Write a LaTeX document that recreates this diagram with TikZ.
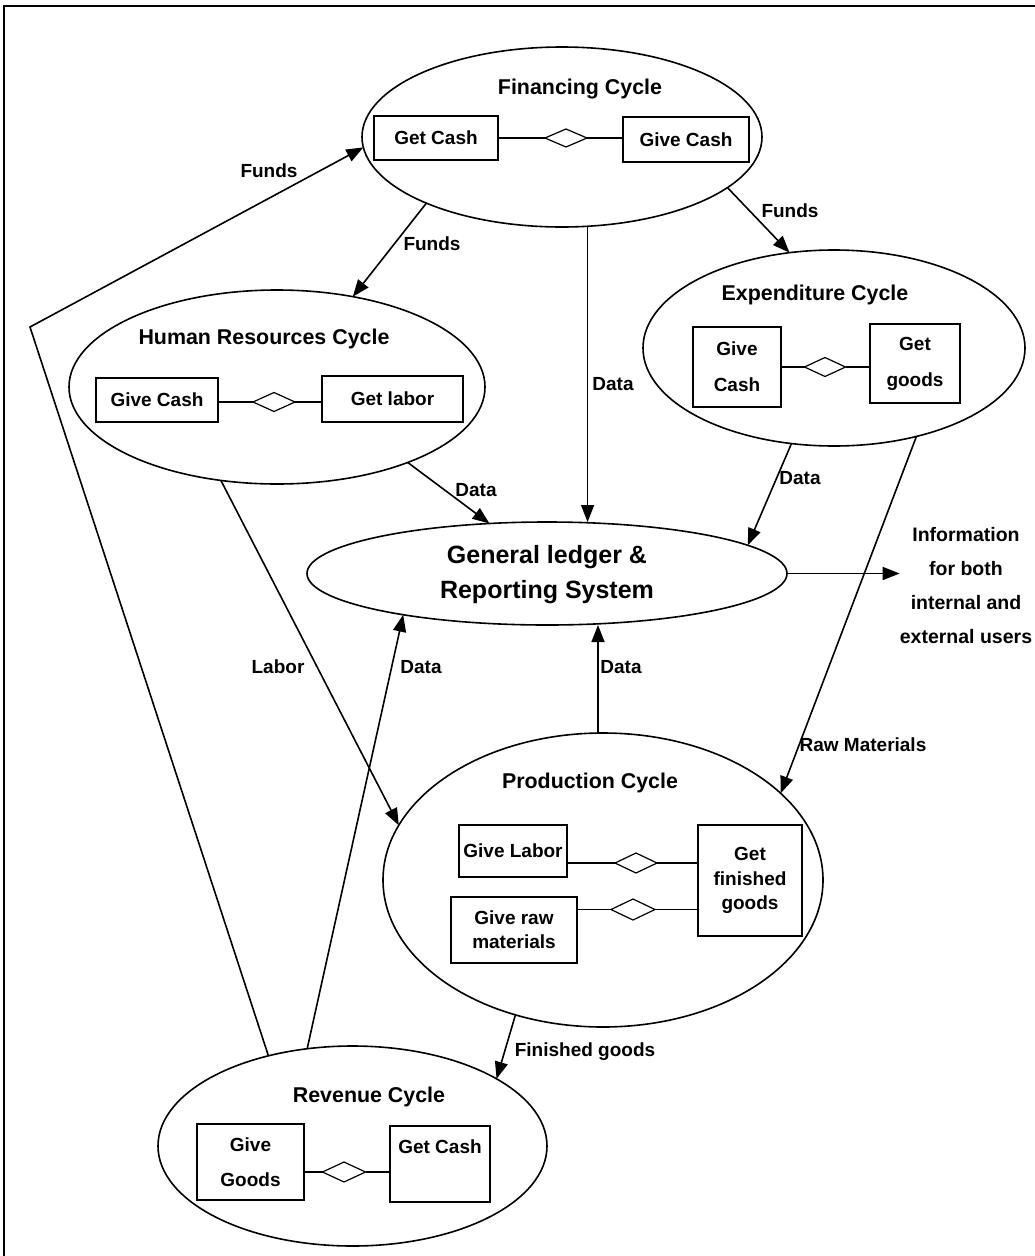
\documentclass[tikz,border=0pt]{standalone}
\usepackage{fontspec}
\setmainfont{Liberation Sans}
\usetikzlibrary{shapes.geometric,arrows.meta}
\begin{document}
\begin{tikzpicture}[x=1pt,y=-1pt,
  cyc/.style={draw, ellipse, line width=1.6pt, inner sep=0pt, outer sep=0pt},
  box/.style={draw, rectangle, line width=1.6pt, inner sep=0pt, outer sep=0pt, align=center,
    font=\fontsize{19}{24}\selectfont\bfseries},
  rel/.style={draw, diamond, line width=1.2pt, inner sep=0pt, outer sep=0pt},
  link/.style={line width=1.6pt},
  arr/.style={line width=1.6pt, -{Triangle[length=17pt,width=13pt]}},
  lbl/.style={font=\fontsize{19}{24}\selectfont\bfseries, inner sep=0pt},
  ttl/.style={font=\fontsize{21.4}{26}\selectfont\bfseries, inner sep=0pt},
]
\useasboundingbox (0,0) rectangle (1035,1256);
% page frame (open at right and bottom)
\draw[line width=2pt] (4,1256) -- (4,6) -- (1035,6);

% ---- cycles ----
\node[cyc, minimum width=400pt, minimum height=180pt] (fin)  at (562,137)    {};
\node[cyc, minimum width=416pt, minimum height=194pt] (hr)   at (277,387)    {};
\node[cyc, minimum width=382pt, minimum height=196pt] (exp)  at (834,348)    {};
\node[cyc, minimum width=480pt, minimum height=103pt] (gl)   at (547,573.5)  {};
\node[cyc, minimum width=440pt, minimum height=294pt] (prod) at (603,880)    {};
\node[cyc, minimum width=389pt, minimum height=200pt] (rev)  at (352.5,1146) {};

\node[ttl] (finT)  at (580,89)   {Financing Cycle};
\node[ttl] (hrT)   at (264,339)  {Human Resources Cycle};
\node[ttl] (expT)  at (815,295)  {Expenditure Cycle};
\node[ttl] (prodT) at (590,783)  {Production Cycle};
\node[ttl] (revT)  at (369,1097) {Revenue Cycle};
\node[font=\fontsize{25}{35}\selectfont\bfseries, align=center, inner sep=0pt] (glT)
  at (547,575) {General ledger \&\\Reporting System};

% ---- financing ----
\node[box, minimum width=124pt, minimum height=44pt] (finGet)  at (436,138)   {Get Cash};
\node[box, minimum width=126pt, minimum height=45pt] (finGive) at (686,139.5) {Give Cash};
\node[rel, minimum width=42pt, minimum height=18pt]  (finRel)  at (566,138)   {};
\draw[link] (finRel.west -| finGet.east) -- (finRel.west);
\draw[link] (finRel.east) -- (finRel.east -| finGive.west);

% ---- human resources ----
\node[box, minimum width=122pt, minimum height=44pt] (hrGive) at (157,400)   {Give Cash};
\node[box, minimum width=141pt, minimum height=46pt] (hrGet)  at (392.5,399) {Get labor};
\node[rel, minimum width=42pt, minimum height=19pt]  (hrRel)  at (274,402)   {};
\draw[link] (hrRel.west -| hrGive.east) -- (hrRel.west);
\draw[link] (hrRel.east) -- (hrRel.east -| hrGet.west);

% ---- expenditure ----
\node[box, font=\fontsize{19}{36}\selectfont\bfseries, minimum width=88pt, minimum height=80pt]
  (expGive) at (737,367) {Give\\Cash};
\node[box, font=\fontsize{19}{36}\selectfont\bfseries, minimum width=90pt, minimum height=79pt]
  (expGet) at (915,363.5) {Get\\goods};
\node[rel, minimum width=41pt, minimum height=19pt] (expRel) at (825,367) {};
\draw[link] (expRel.west -| expGive.east) -- (expRel.west);
\draw[link] (expRel.east) -- (expRel.east -| expGet.west);

% ---- production ----
\node[box, minimum width=108pt, minimum height=52pt] (prodLab) at (513,851) {Give Labor};
\node[box, font=\fontsize{19}{24}\selectfont\bfseries, minimum width=126pt, minimum height=66pt]
  (prodRaw) at (514,930) {Give raw\\materials};
\node[box, font=\fontsize{19}{24.5}\selectfont\bfseries, minimum width=104pt, minimum height=111pt]
  (prodGet) at (750,880.5) {Get\\finished\\goods};
\node[rel, minimum width=42pt, minimum height=20pt] (prodRelA) at (636,863)   {};
\node[rel, minimum width=44pt, minimum height=21pt] (prodRelB) at (633,909.5) {};
\draw[link] (prodRelA.west -| prodLab.east) -- (prodRelA.west);
\draw[link] (prodRelA.east) -- (prodRelA.east -| prodGet.west);
\draw[link] (prodRelB.west -| prodRaw.east) -- (prodRelB.west);
\draw[link] (prodRelB.east) -- (prodRelB.east -| prodGet.west);

% ---- revenue ----
\node[box, font=\fontsize{19}{35}\selectfont\bfseries, minimum width=107pt, minimum height=76pt]
  (revGive) at (250.5,1162) {Give\\Goods};
\node[box, font=\fontsize{19}{35}\selectfont\bfseries, minimum width=100pt, minimum height=76pt]
  (revGet) at (440,1164) {Get Cash\\\phantom{G}};
\node[rel, minimum width=43pt, minimum height=20pt] (revRel) at (344,1172) {};
\draw[link] (revRel.west -| revGive.east) -- (revRel.west);
\draw[link] (revRel.east) -- (revRel.east -| revGet.west);

% ---- outputs ----
\node[lbl, font=\fontsize{19.5}{34}\selectfont\bfseries, align=center] (info) at (966,586)
  {Information\\for both\\internal and\\external users};

% ---- flows ----
\coordinate (bend) at (30,327);
\draw[arr] (rev.133) -- (bend) -- (fin.183);
\node[lbl] at (269,171) {Funds};

\draw[arr] (fin.206) -- (hr.50);
\node[lbl] at (432,244) {Funds};

\draw[arr] (fin.-17) -- (exp.115);
\node[lbl] at (790,211) {Funds};

\draw[arr] (fin.-74) -- (fin.-74 |- gl.north);
\node[lbl] at (613,384) {Data};

\draw[arr] (hr.-30) -- (gl.139);
\node[lbl] at (476,490) {Data};

\draw[arr] (exp.-114) -- (gl.8);
\node[lbl] at (800,478) {Data};

\draw[arr] (gl.east) -- (gl.east -| info.west);

\draw[arr] (exp.-47) -- (prod.26);
\node[lbl] at (863,745) {Raw Materials};

\draw[arr] ([xshift=-5pt]prod.north) -- ([xshift=-5pt]prod.north |- gl.south);
\node[lbl] at (621,667) {Data};

\draw[arr] (hr.-121) -- (prod.165);
\node[lbl] at (278,667) {Labor};

\draw[arr] (rev.115) -- (gl.196);
\node[lbl] at (421,667) {Data};

\draw[arr] (prod.-123) -- (rev.25);
\node[lbl] at (585,1052) {Finished goods};
\end{tikzpicture}
\end{document}
